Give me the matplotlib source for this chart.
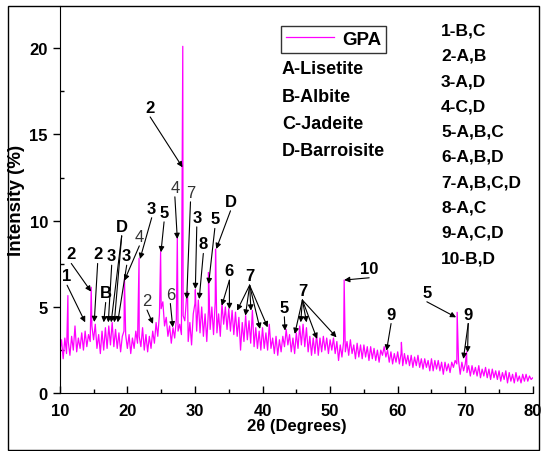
import numpy as np
import matplotlib
matplotlib.use("Agg")
import matplotlib.pyplot as plt
from matplotlib.patches import Rectangle

plt.rcParams['font.family'] = ['Liberation Sans', 'DejaVu Sans']

two_theta = np.arange(10, 80.001, 0.25)
intensity = [
    2.4, 3.1, 2.0, 3.2, 2.3, 3.0, 2.2, 3.3, 2.5, 3.9, 2.4, 3.2, 2.6, 3.5, 2.5, 3.6, 2.7, 3.4, 3.0, 3.9,  # 10
    3.1, 4.0, 2.6, 3.4, 2.3, 3.6, 2.5, 3.8, 2.6, 3.9, 2.8, 4.1, 2.7, 3.7, 2.6, 3.5, 2.4, 3.3, 3.6, 3.4,  # 15
    2.6, 3.4, 2.3, 3.2, 2.6, 3.6, 2.9, 3.3, 2.7, 3.8, 2.5, 3.4, 2.4, 3.3, 2.6, 3.6, 2.9, 4.1, 3.3, 4.6,  # 20
    4.9, 5.3, 3.9, 4.4, 3.3, 3.9, 2.9, 3.8, 3.2, 4.3, 3.6, 4.0, 3.4, 4.5, 4.2, 5.5, 3.0, 4.1, 2.8, 4.6,  # 25
    5.2, 3.6, 5.4, 3.5, 5.0, 3.3, 4.6, 3.0, 4.8, 3.7, 5.0, 3.4, 5.3, 3.5, 4.6, 3.3, 5.2, 4.0, 5.0, 3.7,  # 30
    4.9, 3.6, 4.8, 3.4, 4.7, 3.3, 4.4, 2.5, 4.1, 3.0, 4.5, 3.1, 4.2, 2.9, 4.8, 2.7, 3.8, 2.6, 3.6, 2.5,  # 35
    3.8, 2.6, 3.5, 2.5, 4.0, 2.6, 3.2, 2.3, 3.3, 2.2, 3.1, 2.4, 3.3, 2.7, 3.7, 2.8, 3.4, 2.4, 3.2, 2.3,  # 40
    3.5, 2.6, 3.9, 2.8, 4.0, 2.7, 3.8, 2.4, 3.3, 2.2, 3.2, 2.3, 3.4, 2.2, 3.2, 2.4, 3.3, 2.5, 3.2, 2.3,  # 45
    3.1, 2.5, 3.2, 2.3, 3.0, 1.9, 2.8, 2.1, 3.0, 2.4, 3.0, 2.2, 3.1, 2.3, 2.8, 2.0, 2.9, 2.1, 2.8, 2.0,  # 50
    2.8, 2.1, 2.7, 1.9, 2.7, 2.0, 2.6, 1.9, 2.5, 1.8, 2.5, 2.2, 2.7, 2.1, 2.5, 1.8, 2.4, 1.7, 2.3, 1.8,  # 55
    2.4, 1.7, 2.3, 1.6, 2.3, 1.7, 2.2, 1.6, 2.2, 1.5, 2.1, 1.6, 2.2, 1.5, 2.0, 1.4, 2.0, 1.5, 1.9, 1.3,  # 60
    2.0, 1.3, 1.9, 1.4, 1.9, 1.3, 1.8, 1.1, 1.8, 1.3, 1.7, 1.2, 1.8, 1.5, 1.9, 1.7, 1.9, 1.1, 1.8, 1.3,  # 65
    1.7, 1.2, 1.6, 1.0, 1.6, 1.1, 1.5, 1.0, 1.6, 0.9, 1.4, 1.0, 1.5, 0.9, 1.4, 0.8, 1.4, 0.9, 1.3, 0.8,  # 70
    1.3, 0.7, 1.2, 0.8, 1.3, 0.6, 1.2, 0.7, 1.1, 0.6, 1.2, 0.7, 1.0, 0.6, 1.1, 0.7, 1.1, 0.7, 1.0, 0.8,  # 75
    0.9,
]

# sharp reflections
peak_theta = [11.2, 14.65, 19.57, 21.73, 24.92, 27.39, 28.05, 28.2, 28.9, 30.06, 32.0, 33.05,
              52.08, 60.55, 68.8, 70.2]
peak_int = [5.66, 6.14, 6.66, 7.82, 8.2, 9.13, 8.4, 20.1, 5.9, 6.0, 7.0, 8.35,
            6.56, 2.95, 4.69, 2.4]

# labels: (text, text x, text y, bold, [arrow tips])
labels = [
    ("1", 11.08, 6.81, True, [(13.76, 4.11)]),
    ("2", 11.70, 8.07, True, [(14.63, 5.89)]),
    ("2", 15.60, 8.07, True, [(15.10, 4.13)]),
    ("B", 16.79, 5.81, True, [(16.50, 4.11)]),
    ("3", 17.68, 7.97, True, [(17.18, 4.11)]),
    ("D", 19.16, 9.67, True, [(17.60, 4.11), (18.07, 4.11)]),
    ("3", 19.90, 7.97, True, [(18.57, 4.11)]),
    ("4", 21.77, 9.09, False, [(19.55, 6.52)]),
    ("3", 23.60, 10.72, True, [(21.87, 7.78)]),
    ("5", 25.43, 10.48, True, [(24.97, 8.17)]),
    ("2", 22.91, 5.37, False, [(23.79, 4.02)]),
    ("6", 26.36, 5.75, False, [(26.72, 3.82)]),
    ("2", 23.37, 16.56, True, [(28.16, 13.09)]),
    ("4", 27.03, 11.93, False, [(27.39, 8.94)]),
    ("7", 29.34, 11.64, False, [(28.78, 5.46)]),
    ("3", 30.27, 10.19, True, [(30.06, 6.04)]),
    ("8", 31.24, 8.65, True, [(30.63, 5.46)]),
    ("5", 32.94, 10.10, True, [(32.02, 6.33)]),
    ("D", 35.26, 11.12, True, [(33.15, 8.36)]),
    ("6", 35.10, 7.10, True, [(33.97, 5.08), (35.10, 4.88)]),
    ("7", 38.09, 6.81, True, [(36.23, 4.79), (37.47, 4.50), (38.29, 4.79), (39.63, 3.73), (40.76, 3.82)]),
    ("5", 43.23, 4.98, True, [(43.33, 3.63)]),
    ("7", 45.90, 5.95, True, [(44.77, 3.44), (45.65, 4.11), (46.52, 4.11), (48.07, 3.15), (50.95, 3.24)]),
    ("10", 55.78, 7.24, True, [(52.08, 6.56)]),
    ("9", 59.02, 4.59, True, [(58.35, 2.47)]),
    ("5", 64.32, 5.85, True, [(68.64, 4.40)]),
    ("9", 70.44, 4.59, True, [(69.72, 1.99), (70.34, 2.37)]),
]

phases = ["A-Lisetite", "B-Albite", "C-Jadeite", "D-Barroisite"]
groups = ["1-B,C", "2-A,B", "3-A,D", "4-C,D", "5-A,B,C", "6-A,B,D",
          "7-A,B,C,D", "8-A,C", "9-A,C,D", "10-B,D"]

x = np.concatenate([two_theta, peak_theta])
y = np.concatenate([intensity, peak_int])
order = np.argsort(x)
x, y = x[order], y[order]

fig = plt.figure(figsize=(5.45, 4.52), dpi=100)
ax = fig.add_axes([0.1097, 0.1277, 0.868, 0.857])
line, = ax.plot(x, y, color='#ff00ff', lw=0.9, label='GPA')

ax.set_xlim(10, 80)
ax.set_ylim(0, 22.44)
ax.set_xticks(range(10, 81, 10))
ax.set_xticks(range(15, 80, 10), minor=True)
ax.set_yticks(range(0, 21, 5))
ax.set_yticks(np.arange(2.5, 22.4, 5), minor=True)
ax.tick_params(axis='x', which='major', direction='in', length=5, width=1, labelsize=12, pad=7)
ax.tick_params(axis='x', which='minor', direction='in', length=3, width=1)
ax.tick_params(axis='y', which='major', direction='out', length=5, width=1, labelsize=12)
ax.tick_params(axis='y', which='minor', direction='in', length=3, width=1)
for lab in ax.get_xticklabels() + ax.get_yticklabels():
    lab.set_fontweight('bold')
ax.spines['top'].set_visible(False)
ax.spines['right'].set_visible(False)
ax.set_xlabel('2θ (Degrees)', fontsize=12, fontweight='bold', labelpad=0)
ax.set_ylabel('Intensity (%)', fontsize=13.5, fontweight='bold', labelpad=3)

for txt, tx, ty, bold, tips in labels:
    ax.text(tx, ty, txt, ha='center', va='center', fontsize=12,
            fontweight='bold' if bold else 'normal',
            color='black' if bold else '#333333')
    for px, py in tips:
        ax.annotate('', xy=(px, py), xytext=(tx, ty - 0.55),
                    arrowprops=dict(arrowstyle='-|>', color='black', lw=0.8,
                                    mutation_scale=8, shrinkA=0, shrinkB=0))

leg = ax.legend(handles=[line], loc='upper left', bbox_to_anchor=(281 / 545, 1 - 27 / 452),
                bbox_transform=fig.transFigure, frameon=True, fancybox=False,
                edgecolor='black', handlelength=2.6, borderpad=0.25, handletextpad=0.4,
                borderaxespad=0, prop={'weight': 'bold', 'size': 13.5})
leg.get_frame().set_linewidth(1.0)

for i, name in enumerate(phases):
    fig.text(282 / 545, 1 - (70 + 27.3 * i) / 452, name, ha='left', va='center',
             fontsize=13, fontweight='bold')
for i, name in enumerate(groups):
    fig.text(441 / 545, 1 - (31 + 25.3 * i) / 452, name, ha='left', va='center',
             fontsize=12.5, fontweight='bold')

fig.patches.append(Rectangle((7.6 / 545, 1.5 / 452), 531.5 / 545, 443.5 / 452,
                             transform=fig.transFigure, fill=False, edgecolor='black', lw=1))

fig.savefig('out.png', dpi=100)
